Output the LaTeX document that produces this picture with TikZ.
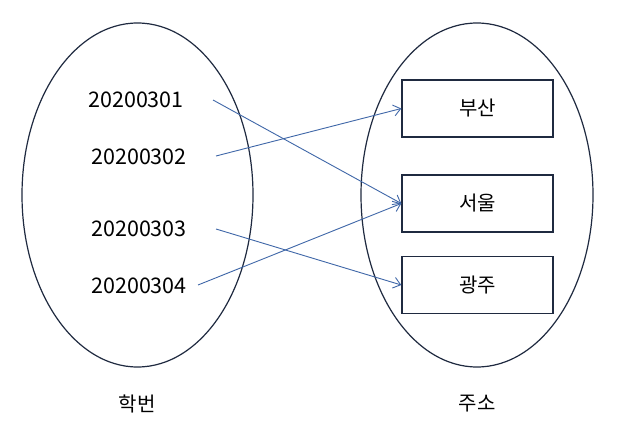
\documentclass[tikz,border=0pt]{standalone}
\usepackage{fontspec}
\setmainfont{Noto Sans CJK KR}
\usetikzlibrary{arrows.meta}
\definecolor{ink}{HTML}{1F2A40}
\definecolor{arrowblue}{HTML}{3F67A8}
\begin{document}
\begin{tikzpicture}[x=1pt,y=-1pt,
  lbl/.style={font=\fontsize{21.5}{24}\selectfont, inner sep=0pt},
  klbl/.style={font=\fontsize{20}{24}\selectfont, inner sep=0pt},
  setellipse/.style={draw=ink, line width=1.2pt},
  citybox/.style={draw=ink, line width=1.4pt, minimum width=151pt, minimum height=57pt, inner sep=0pt, font=\fontsize{20}{24}\selectfont},
  link/.style={draw=arrowblue, line width=0.9pt, -{Straight Barb[length=7pt,width=11pt]}}]
\useasboundingbox (0,0) rectangle (637,444);
\fill[white] (0,0) rectangle (637,444);
% ellipses
\draw[setellipse] (137.5,195) ellipse [x radius=115.5, y radius=172];
\draw[setellipse] (477,195) ellipse [x radius=116, y radius=172];
% student numbers
\node[lbl] (n1) at (136,100) {20200301};
\node[lbl] (n2) at (139,157) {20200302};
\node[lbl] (n3) at (139,229) {20200303};
\node[lbl] (n4) at (139,286) {20200304};
% start points
\coordinate (s1) at (213,100);
\coordinate (s2) at (216,156);
\coordinate (s3) at (216,229);
\coordinate (s4) at (198,285);
% city boxes
\node[citybox] (b1) at (477.5,108.5) {부산};
\node[citybox] (b2) at (477.5,203.5) {서울};
\node[citybox] (b3) at (477.5,285) {광주};
% set labels
\node[klbl] (t1) at (137,404) {학번};
\node[klbl] (t2) at (477,404) {주소};
% links
\draw[link] (s1) -- (b2.west);
\draw[link] (s2) -- (b1.west);
\draw[link] (s3) -- (b3.west);
\draw[link] (s4) -- (b2.west);
\end{tikzpicture}
\end{document}
